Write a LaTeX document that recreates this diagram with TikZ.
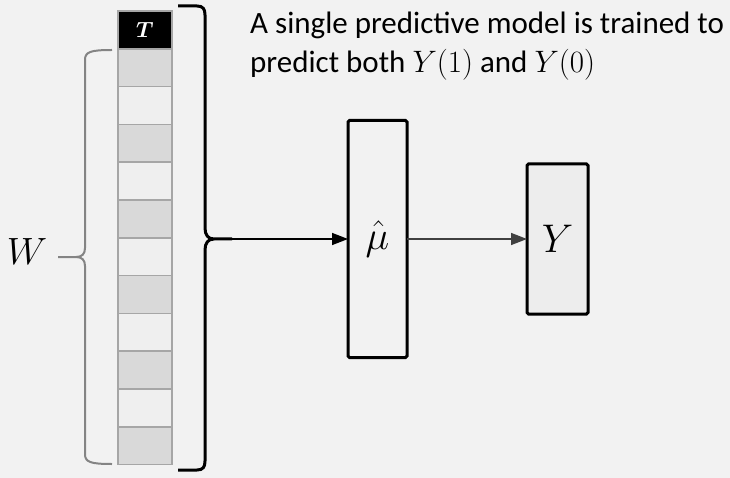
\documentclass[tikz,border=0pt]{standalone}
\usepackage{fix-cm}
\usepackage{amsmath}
\usepackage{fontspec}
\setmainfont{Carlito}
\usepackage{tikz}
\usetikzlibrary{arrows.meta,positioning}
\definecolor{pagegray}{RGB}{242,242,242}
\definecolor{celldark}{RGB}{217,217,217}
\definecolor{celllight}{RGB}{239,239,239}
\definecolor{cellline}{RGB}{166,166,166}
\definecolor{bracegray}{RGB}{132,132,132}
\definecolor{outfill}{RGB}{237,237,237}
\definecolor{arrowgray}{RGB}{64,64,64}

\begin{document}
\begin{tikzpicture}[x=1pt,y=-1pt,>={Triangle[length=16pt,width=12pt]}]
\tikzstyle{cell}=[draw=cellline,line width=1.5pt,minimum width=54pt,minimum height=37.8pt,inner sep=0pt,outer sep=0pt]
\tikzstyle{bigbox}=[draw,line width=3pt,rounded corners=1.5pt,inner sep=0pt,outer sep=0pt,font=\fontsize{40}{48}\selectfont]
\tikzstyle{link}=[->,draw=arrowgray,line width=1.5pt]
\fill[pagegray] (0,0) rectangle (730,478);
\useasboundingbox (0,0) rectangle (730,478);
% feature column
\node[cell,fill=black,text=white,font=\fontsize{22}{26}\selectfont\boldmath] (treat) at (145,29.9) {$T$};
\node[cell,fill=celldark,below=0pt of treat] (c1) {};
\foreach \i [remember=\i as \j (initially 1)] in {2,...,11}{
  \ifodd\i\def\cellfill{celldark}\else\def\cellfill{celllight}\fi
  \node[cell,fill=\cellfill,below=0pt of c\j] (c\i) {};
}
% braces
\draw[bracegray,line width=2pt] (112,50) .. controls (90,50) and (85,52) .. (85,60) -- (85,248)
  .. controls (85,254) and (82,257) .. (76,257) -- (58,257)
  (76,257) .. controls (82,257) and (85,260) .. (85,266) -- (85,454)
  .. controls (85,462) and (90,464) .. (112,464);
\node[font=\fontsize{38}{44}\selectfont] (wlab) at (27,252) {$W$};
\draw[line width=3pt] (178,6) -- (197,6) .. controls (203,6) and (205,9) .. (205,15) -- (205,228)
  .. controls (205,235) and (208,239) .. (214,239) -- (232,239)
  (214,239) .. controls (208,239) and (205,243) .. (205,250) -- (205,461)
  .. controls (205,467) and (203,470) .. (197,470) -- (178,470);
\coordinate (tip) at (232,239);
% model and outcome
\node[bigbox,fill=pagegray,minimum width=59pt,minimum height=237pt] (muhat) at (377.5,239) {$\hat{\mu}$};
\node[bigbox,fill=outfill,minimum width=61pt,minimum height=150pt] (out) at (557.5,239) {$Y$};
\draw[link,draw=black] (tip) -- (muhat);
\draw[link] (muhat) -- (out);
\node[anchor=north west,inner sep=0pt,align=left,font=\fontsize{31}{39}\selectfont] (note) at (250,12)
  {A single predictive model is trained to\\predict both $Y(1)$ and $Y(0)$};
\end{tikzpicture}
\end{document}
